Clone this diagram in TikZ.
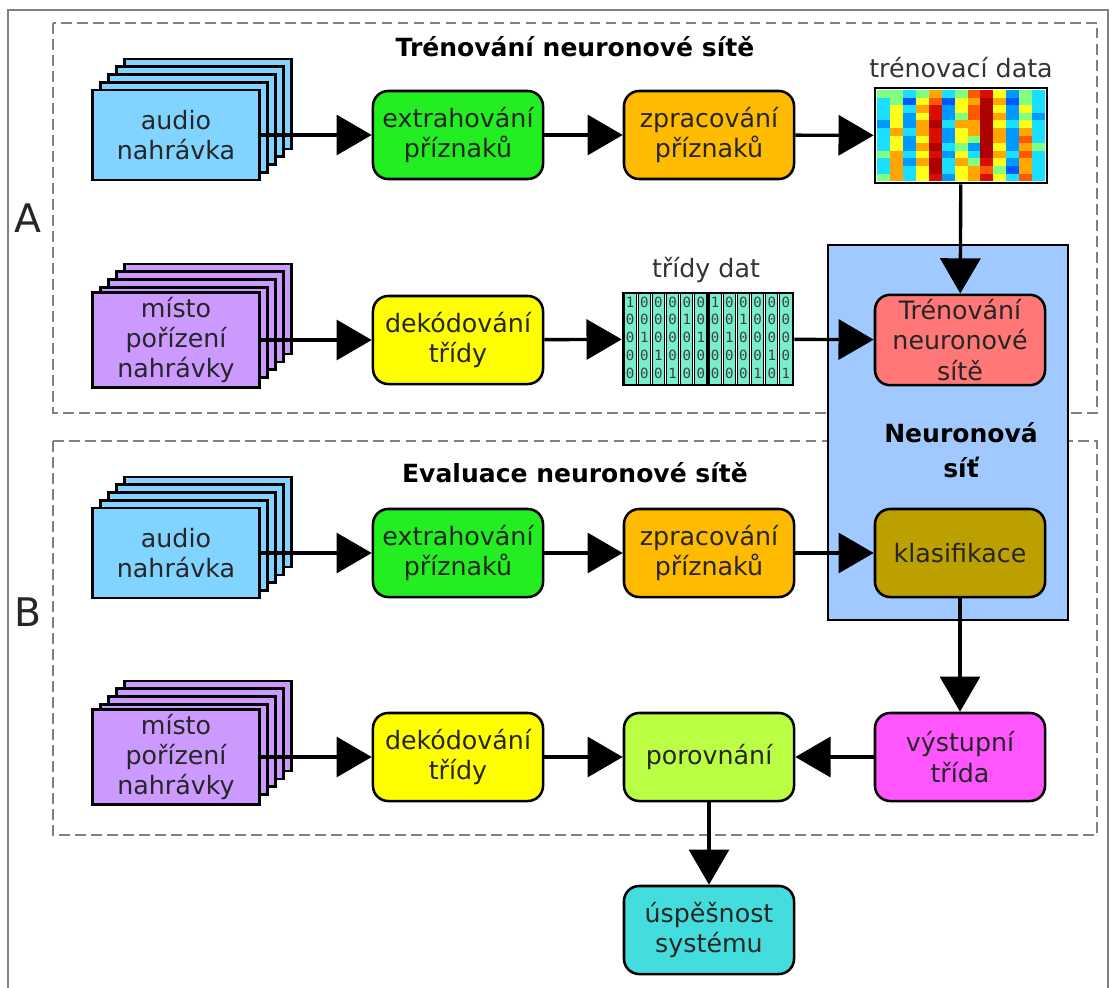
\documentclass[tikz,border=0pt]{standalone}
\usepackage{fontspec}
\setmainfont{DejaVu Sans}
\setmonofont{DejaVu Sans Mono}
\usetikzlibrary{arrows.meta}

\definecolor{cAudio}{HTML}{80D4FF}
\definecolor{cPlace}{HTML}{CC99FF}
\definecolor{cExtr}{HTML}{22EE22}
\definecolor{cProc}{HTML}{FFBB00}
\definecolor{cDec}{HTML}{FFFF00}
\definecolor{cTrain}{HTML}{FF7777}
\definecolor{cNet}{HTML}{A0CAFF}
\definecolor{cClass}{HTML}{BBA000}
\definecolor{cOut}{HTML}{FF55FF}
\definecolor{cCmp}{HTML}{BBFF44}
\definecolor{cSucc}{HTML}{44DDDD}
\definecolor{cMat}{HTML}{77EECC}
\definecolor{jet1}{rgb}{0,0.35,1}
\definecolor{jet2}{rgb}{0,0.6,1}
\definecolor{jet3}{rgb}{0.1,0.88,1}
\definecolor{jet4}{rgb}{0.5,1,0.5}
\definecolor{jet5}{rgb}{1,1,0.1}
\definecolor{jet6}{rgb}{1,0.65,0}
\definecolor{jet7}{rgb}{1,0.35,0}
\definecolor{jet8}{rgb}{0.85,0.05,0}
\definecolor{jet9}{rgb}{0.68,0,0}

\begin{document}
\begin{tikzpicture}[x=0.025cm, y=-0.025cm,
	main/.style = {draw, line width=1.8pt, rounded corners=0.38cm, minimum width=4.25cm, minimum height=2.2cm, align=center, font=\fontsize{18}{21.5}\selectfont, text=black!85},
	stackbox/.style = {draw, line width=1.8pt, minimum width=4.18cm, minimum height=2.25cm, align=center, font=\fontsize{18}{21.5}\selectfont, text=black!85},
	flow/.style = {line width=2.4pt, -{Triangle[length=0.88cm, width=1cm]}},
	group/.style = {draw=gray, line width=1.5pt, dash pattern=on 0.27cm off 0.13cm},
	title/.style = {font=\bfseries\fontsize{17.8}{22}\selectfont},
	lbl/.style = {font=\fontsize{18}{21.5}\selectfont, text=black!80}]

		\useasboundingbox (0,0) rectangle (1116,987);
		\draw[gray, line width=1.2pt] (8,10) rectangle (1108,1010);

		\draw[group] (53,23) rectangle (1097,413);
		\draw[group] (53,441) rectangle (1097,835);

		\node[title] (titA) at (575,47) {Trénování neuronové sítě};
		\node[title] (titB) at (575,473) {Evaluace neuronové sítě};
		\node[font=\fontsize{28}{30}\selectfont, text=black!85] (A) at (28,218) {A};
		\node[font=\fontsize{28}{30}\selectfont, text=black!85] (B) at (28,612) {B};

		\node[draw, line width=1.5pt, fill=cNet, minimum width=6cm, minimum height=9.375cm] (net) at (948,432.5) {};
		\node[title, align=center, font=\bfseries\fontsize{17.8}{24.5}\selectfont] (netlbl) at (961,450) {Neuronová\\síť};

		% stacks
		\foreach \k in {4,3,2,1} {
			\node[stackbox, fill=cAudio] (au1s\k) at ({176+8*\k},{135-7.75*\k}) {};
			\node[stackbox, fill=cPlace] (pl1s\k) at ({176+8*\k},{340-7.75*\k}) {};
			\node[stackbox, fill=cAudio] (au2s\k) at ({176+8*\k},{553-7.75*\k}) {};
			\node[stackbox, fill=cPlace] (pl2s\k) at ({176+8*\k},{757-7.75*\k}) {};
		}
		\node[stackbox, fill=cAudio] (au1) at (176,135) {audio\\nahrávka};
		\node[stackbox, fill=cPlace] (pl1) at (176,340) {místo\\pořízení\\nahrávky};
		\node[stackbox, fill=cAudio] (au2) at (176,553) {audio\\nahrávka};
		\node[stackbox, fill=cPlace] (pl2) at (176,757) {místo\\pořízení\\nahrávky};

		\node[main, fill=cExtr] (ext1) at (458,135) {extrahování\\příznaků};
		\node[main, fill=cProc] (zpr1) at (709,135) {zpracování\\příznaků};
		\node[main, fill=cDec] (dek1) at (458,340) {dekódování\\třídy};
		\node[main, fill=cTrain] (tren) at (960,340) {Trénování\\neuronové\\sítě};
		\node[main, fill=cExtr] (ext2) at (458,553) {extrahování\\příznaků};
		\node[main, fill=cProc] (zpr2) at (709,553) {zpracování\\příznaků};
		\node[main, fill=cClass] (klas) at (960,553) {klasifikace};
		\node[main, fill=cDec] (dek2) at (458,757) {dekódování\\třídy};
		\node[main, fill=cCmp] (por) at (709,757) {porovnání};
		\node[main, fill=cOut] (vyst) at (960,757) {výstupní\\třída};
		\node[main, fill=cSucc] (usp) at (709,930) {úspěšnost\\systému};

		% training data
		\foreach \col [count=\i] in {{4,3,3,3,2,3,3,3,4,3,3,4},{4,4,5,5,5,6,5,5,6,6,6,6},{3,1,3,2,2,3,2,2,3,2,3,3},{4,5,6,5,6,6,5,6,5,6,5,5},{6,7,8,8,9,8,8,9,8,9,9,8},{3,1,2,2,3,2,2,3,2,3,3,2},{4,5,5,4,6,5,5,4,5,6,5,5},{7,6,7,7,6,6,4,2,3,4,6,6},{8,9,9,9,9,9,9,9,9,8,7,8},{5,6,5,6,5,6,6,5,6,5,4,5},{2,1,2,2,3,2,2,2,3,2,1,3},{4,4,5,4,5,6,7,6,7,6,6,7},{3,3,3,2,3,3,3,4,3,3,3,3}} {
			\foreach \v [count=\j] in \col {
				\fill[jet\v] ({877+(\i-1)*12.93},{90+(\j-1)*7.6}) rectangle ++(12.95,7.65);
			}
		}
		\node[draw, line width=1.8pt, minimum width=4.3cm, minimum height=2.375cm] (data) at (961,135.5) {};
		\node[lbl] (datalbl) at (961,68) {trénovací data};

		% class matrix
		\foreach \col [count=\i] in {{1,0,0,0,0},{0,0,1,0,0},{0,0,0,1,0},{0,0,0,0,1},{0,1,0,0,0},{0,0,1,0,0},{1,0,0,0,0},{0,0,1,0,0},{0,1,0,0,0},{0,0,0,0,1},{0,0,0,1,0},{0,0,0,0,1}} {
			\draw[fill=cMat, line width=0.8pt] ({623+(\i-1)*14.17+1},293) rectangle ++(12.2,92);
			\foreach \v [count=\j] in \col {
				\node[font=\ttfamily\fontsize{10}{10}\selectfont, text=black!75, inner sep=0pt] (d\i-\j) at ({623+(\i-0.5)*14.17},{302+(\j-1)*17.8}) {\v};
			}
		}
		\node[draw, line width=1.8pt, minimum width=4.25cm, minimum height=2.3cm] (cls) at (708,339) {};
		\node[lbl] (clslbl) at (706,270) {třídy dat};

		\draw[flow] (au1) -- (ext1);
		\draw[flow] (ext1) -- (zpr1);
		\draw[flow] (zpr1) -- (data);
		\draw[flow] (data) -- (tren);
		\draw[flow] (pl1) -- (dek1);
		\draw[flow] (dek1) -- (cls);
		\draw[flow] (cls) -- (tren);
		\draw[flow] (au2) -- (ext2);
		\draw[flow] (ext2) -- (zpr2);
		\draw[flow] (zpr2) -- (klas);
		\draw[flow] (klas) -- (vyst);
		\draw[flow] (pl2) -- (dek2);
		\draw[flow] (dek2) -- (por);
		\draw[flow] (vyst) -- (por);
		\draw[flow] (por) -- (usp);
	\end{tikzpicture}
\end{document}
